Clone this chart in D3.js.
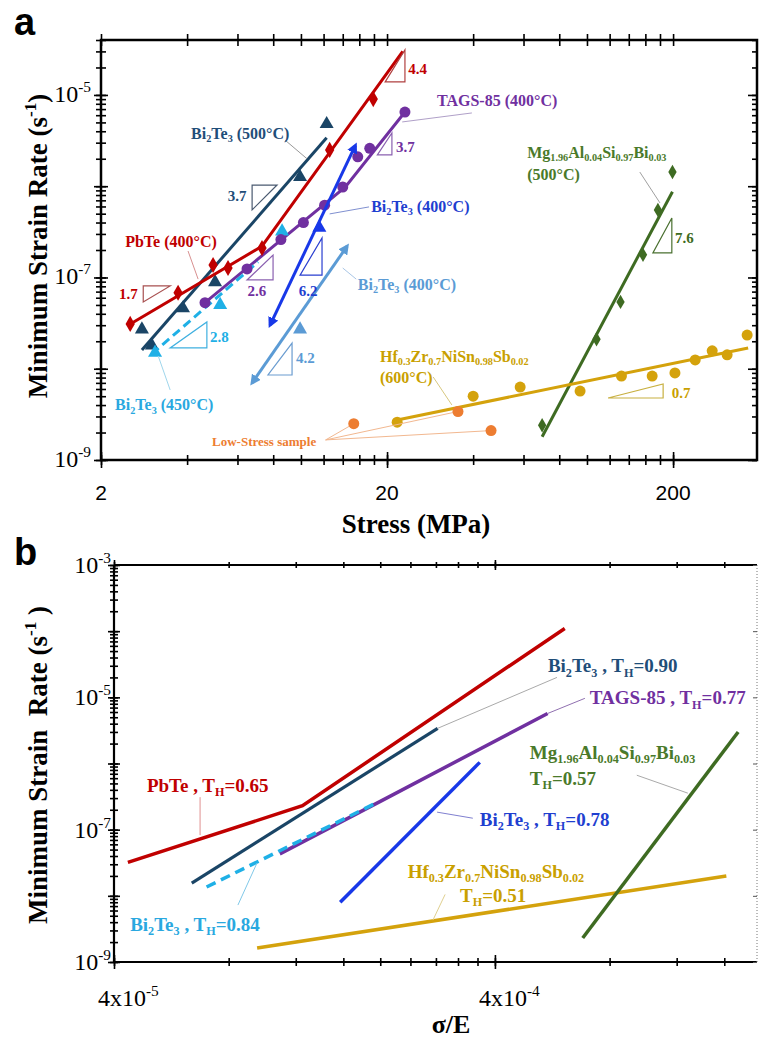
<!DOCTYPE html>
<html>
<head>
<meta charset="utf-8">
<script src="https://cdn.jsdelivr.net/npm/d3@7"></script>
<style>
  body { margin: 0; background: #fff; }
</style>
</head>
<body>
<svg id="fig" width="760" height="1041"></svg>
<script>
// ---------- panel a : stress (MPa) vs minimum strain rate (1/s) ----------
const pbteStress = [2.53, 3.72, 4.93, 5.56, 7.31, 12.6, 17.9];
const pbteRate = [3.1e-8, 6.8e-8, 1.37e-7, 1.27e-7, 2.1e-7, 2.5e-6, 9.0e-6];
const pbteFitStress = [2.49, 7.31, 22.7];
const pbteFitRate = [3.0e-8, 2.2e-7, 3.0e-5];

const bt500Stress = [2.78, 3.01, 3.87, 5.01, 9.93, 12.3];
const bt500Rate = [2.7e-8, 1.8e-8, 4.6e-8, 8.9e-8, 1.26e-6, 4.8e-6];
const bt500FitStress = [2.78, 12.3];
const bt500FitRate = [1.6e-8, 3.4e-6];

const bt450Stress = [3.09, 5.22, 8.59];
const bt450Rate = [1.5e-8, 5.0e-8, 3.2e-7];
const bt450FitStress = [3.01, 7.08];
const bt450FitRate = [1.45e-8, 1.48e-7];

const tagsStress = [4.62, 6.48, 8.51, 10.2, 12.1, 14.0, 15.8, 17.4, 23.1];
const tagsRate = [5.3e-8, 1.24e-7, 2.6e-7, 4.0e-7, 6.2e-7, 9.8e-7, 2.1e-6, 2.6e-6, 6.5e-6];
const tagsFitStress = [4.62, 14.3, 23.1];
const tagsFitRate = [5.3e-8, 9.8e-7, 6.5e-6];

const bt400Stress = [7.8, 11.6, 15.5];
const bt400Rate = [3.0e-8, 3.5e-7, 2.8e-6];

const bt400bStress = [6.75, 9.93, 14.5];
const bt400bRate = [7.0e-9, 2.7e-8, 2.2e-7];

const mgStress = [69.7, 108, 131, 157, 177, 199];
const mgRate = [2.4e-9, 2.1e-8, 5.4e-8, 1.77e-7, 5.5e-7, 1.43e-6];
const mgFitStress = [69.7, 199];
const mgFitRate = [1.8e-9, 8.7e-7];

const hfStress = [21.7, 40.0, 58.4, 94.6, 132, 169, 203, 239, 274, 309, 363];
const hfRate = [2.6e-9, 5.0e-9, 6.3e-9, 5.7e-9, 8.3e-9, 8.3e-9, 9.0e-9, 1.25e-8, 1.57e-8, 1.42e-8, 2.34e-8];
const hfFitStress = [21.7, 366];
const hfFitRate = [2.74e-9, 1.69e-8];

const lowStress = [15.3, 35.4, 46.2];
const lowRate = [2.5e-9, 3.4e-9, 2.1e-9];

// ---------- panel b : normalised stress (sigma/E) ----------
const bPbteE = [4.35e-5, 1.25e-4, 6.1e-4];
const bPbteRate = [3.2e-8, 2.3e-7, 1.1e-4];
const bBt90E = [6.4e-5, 2.83e-4];
const bBt90Rate = [1.56e-8, 3.4e-6];
const bTagsE = [1.09e-4, 2.03e-4, 5.5e-4];
const bTagsRate = [4.3e-8, 2.8e-7, 5.7e-6];
const bBt84E = [7.0e-5, 1.97e-4];
const bBt84Rate = [1.36e-8, 2.6e-7];
const bBt78E = [1.57e-4, 3.65e-4];
const bBt78Rate = [8.0e-9, 1.04e-6];
const bHfE = [9.5e-5, 1.62e-3];
const bHfRate = [1.63e-9, 2.0e-8];
const bMgE = [6.8e-4, 1.74e-3];
const bMgRate = [2.3e-9, 3.0e-6];

// tick labels
const aXLabelTicks = [2, 20, 200];
const aYLabelExps = [-9, -7, -5];
const bXLabelTicks = [4e-5, 4e-4];
const bYLabelExps = [-9, -7, -5, -3];

const C = {
  red: '#c00000', navy: '#1a4566', cyan: '#1fb0e6', purple: '#7030a0',
  blue: '#1838e8', lblue: '#5b9bd5', green: '#3e6b22', gold: '#d4a20c', orange: '#ed7d31'
};
const SERIF = '"Liberation Serif","Times New Roman",serif';
const SANS = '"Liberation Sans",Arial,sans-serif';

const svg = d3.select('#fig');

const xA = d3.scaleLog().domain([2, 393]).range([101, 757]);
const yA = d3.scaleLog().domain([1e-9, 4e-5]).range([460, 40]);
const xB = d3.scaleLog().domain([4e-5, 1.95e-3]).range([114, 757]);
const yB = d3.scaleLog().domain([1e-9, 1e-3]).range([962, 565]);

// text with _{sub} and ^{sup}
function rich(sel, str, fs) {
  const parts = str.split(/([_^]\{[^}]*\})/).filter(s => s.length);
  let cur = 0;
  parts.forEach(p => {
    const m = p.match(/^([_^])\{(.*)\}$/);
    if (m) {
      const off = m[1] === '_' ? fs * 0.22 : -fs * 0.42;
      sel.append('tspan').attr('dy', off - cur).attr('font-size', fs * 0.64).text(m[2]);
      cur = off;
    } else {
      sel.append('tspan').attr('dy', -cur).attr('font-size', fs).text(p);
      cur = 0;
    }
  });
  return sel;
}

function spread(bases, dom) {
  const out = [];
  bases.forEach(b => {
    for (let k = 1; k <= 9; k++) {
      const v = b * k;
      if (v >= dom[0] * 0.999 && v <= dom[1] * 1.001) out.push(v);
    }
  });
  return out;
}

function ticks(g, scale, vals, orient, pos, lenA, lenB) {
  const fns = orient === 'x' ? [d3.axisBottom, d3.axisTop] : [d3.axisLeft, d3.axisRight];
  const tr = orient === 'x' ? `translate(0,${pos})` : `translate(${pos},0)`;
  [[fns[0], lenA], [fns[1], lenB]].forEach(([fn, len]) => {
    if (!len) return;
    const a = g.append('g').attr('transform', tr)
      .call(fn(scale).tickValues(vals).tickSize(len).tickSizeOuter(0).tickFormat(''));
    a.select('.domain').remove();
    a.selectAll('line').attr('stroke', '#000').attr('stroke-width', 1.6);
  });
}

function drawLine(g, xs, ys, xv, yv, color, w, dash) {
  g.append('path')
    .datum(xv.map((v, i) => [v, yv[i]]))
    .attr('d', d3.line().x(d => xs(d[0])).y(d => ys(d[1])))
    .attr('fill', 'none').attr('stroke', color).attr('stroke-width', w)
    .attr('stroke-dasharray', dash || null);
}

function drawPoints(g, xs, ys, xv, yv, color, type, size) {
  const pts = xv.map((v, i) => [v, yv[i]]);
  if (type === 'circle') {
    g.selectAll(null).data(pts).enter().append('circle')
      .attr('cx', d => xs(d[0])).attr('cy', d => ys(d[1])).attr('r', size).attr('fill', color);
  } else {
    const sym = d3.symbol().type(type).size(size);
    g.selectAll(null).data(pts).enter().append('path')
      .attr('d', sym).attr('transform', d => `translate(${xs(d[0])},${ys(d[1])})`).attr('fill', color);
  }
}

function drawLabel(g, xs, ys, d, fs) {
  if (d.lead) {
    d.lead.forEach(seg => {
      g.append('line')
        .attr('x1', xs(seg[0][0])).attr('y1', ys(seg[0][1]))
        .attr('x2', xs(seg[1][0])).attr('y2', ys(seg[1][1]))
        .attr('stroke', d.lc).attr('stroke-width', 1);
    });
  }
  const t = g.append('text')
    .attr('x', xs(d.x)).attr('y', ys(d.y))
    .attr('fill', d.c).attr('font-family', SERIF).attr('font-weight', 'bold')
    .attr('text-anchor', d.anchor || 'start');
  rich(t, d.t, d.fs || fs);
}

function slopeTri(g, xs, ys, d) {
  const x1 = xs(d.x1), x2 = xs(d.x2), yb = ys(d.yb), yt = ys(d.yt);
  const pts = d.type === 'ul' ? [[x1, yt], [x2, yt], [x1, yb]] : [[x1, yb], [x2, yb], [x2, yt]];
  g.append('path').attr('d', 'M' + pts.join('L') + 'Z')
    .attr('fill', 'none').attr('stroke', d.sc).attr('stroke-width', 1.2);
  g.append('text').attr('x', xs(d.tx)).attr('y', ys(d.ty))
    .attr('text-anchor', d.anchor).attr('fill', d.tc)
    .attr('font-family', SERIF).attr('font-weight', 'bold').attr('font-size', 15)
    .text(d.t);
}

// arrow heads for the Bi2Te3 (400 C) lines
const defs = svg.append('defs');
[['arrBlue', C.blue], ['arrLB', C.lblue]].forEach(([id, col]) => {
  defs.append('marker').attr('id', id).attr('viewBox', '0 0 10 10')
    .attr('refX', 7).attr('refY', 5).attr('markerWidth', 3.6).attr('markerHeight', 3.6)
    .attr('orient', 'auto-start-reverse')
    .append('path').attr('d', 'M0,0L10,5L0,10Z').attr('fill', col);
});

// ================= panel a =================
const ga = svg.append('g');

// axes
const aXt = spread(aXLabelTicks, xA.domain());
const aYdec = d3.range(-9, -4).map(e => Math.pow(10, e));
const aYt = spread(aYdec, yA.domain());
ticks(ga, xA, aXt, 'x', 460, 5, 5);
ticks(ga, xA, aXLabelTicks, 'x', 460, 8, 8);
ticks(ga, xA, aXt, 'x', 40, 6, 6);
ticks(ga, yA, aYt, 'y', 101, 5, 5);
ticks(ga, yA, aYdec, 'y', 101, 7, 7);
ticks(ga, yA, aYt, 'y', 757, 5, 0);
ticks(ga, yA, aYdec, 'y', 757, 9, 0);
ga.append('rect').attr('x', 101).attr('y', 40).attr('width', 656).attr('height', 420)
  .attr('fill', 'none').attr('stroke', '#000').attr('stroke-width', 2.5);

aXLabelTicks.forEach(v => {
  ga.append('text').attr('x', xA(v)).attr('y', 500).attr('text-anchor', 'middle')
    .attr('font-family', SANS).attr('font-size', 21).text(v);
});
aYLabelExps.forEach(e => {
  const t = ga.append('text').attr('x', 91).attr('y', yA(Math.pow(10, e)) + 7)
    .attr('text-anchor', 'end').attr('font-family', SERIF);
  rich(t, '10^{' + e + '}', 24);
});

// series
drawLine(ga, xA, yA, bt500FitStress, bt500FitRate, C.navy, 3);
drawPoints(ga, xA, yA, bt500Stress, bt500Rate, C.navy, d3.symbolTriangle, 85);
drawLine(ga, xA, yA, tagsFitStress, tagsFitRate, C.purple, 3);
drawLine(ga, xA, yA, bt450FitStress, bt450FitRate, C.cyan, 3, '9,5');
drawPoints(ga, xA, yA, bt450Stress, bt450Rate, C.cyan, d3.symbolTriangle, 85);
drawPoints(ga, xA, yA, tagsStress, tagsRate, C.purple, 'circle', 5.5);
drawLine(ga, xA, yA, pbteFitStress, pbteFitRate, C.red, 3);
drawPoints(ga, xA, yA, pbteStress, pbteRate, C.red, d3.symbolDiamond, 75);

ga.append('path')
  .datum([[bt400Stress[0], bt400Rate[0]], [bt400Stress[2], bt400Rate[2]]])
  .attr('d', d3.line().x(d => xA(d[0])).y(d => yA(d[1])))
  .attr('stroke', C.blue).attr('stroke-width', 3).attr('fill', 'none')
  .attr('marker-start', 'url(#arrBlue)').attr('marker-end', 'url(#arrBlue)');
drawPoints(ga, xA, yA, bt400Stress.slice(1, 2), bt400Rate.slice(1, 2), C.blue, d3.symbolTriangle, 85);

ga.append('path')
  .datum([[bt400bStress[0], bt400bRate[0]], [bt400bStress[2], bt400bRate[2]]])
  .attr('d', d3.line().x(d => xA(d[0])).y(d => yA(d[1])))
  .attr('stroke', C.lblue).attr('stroke-width', 3).attr('fill', 'none')
  .attr('marker-start', 'url(#arrLB)').attr('marker-end', 'url(#arrLB)');
drawPoints(ga, xA, yA, bt400bStress.slice(1, 2), bt400bRate.slice(1, 2), C.lblue, d3.symbolTriangle, 85);

drawLine(ga, xA, yA, mgFitStress, mgFitRate, C.green, 3);
drawPoints(ga, xA, yA, mgStress, mgRate, C.green, d3.symbolDiamond, 60);
drawLine(ga, xA, yA, hfFitStress, hfFitRate, C.gold, 3);
drawPoints(ga, xA, yA, hfStress, hfRate, C.gold, 'circle', 5.5);

// low-stress leader lines + points
lowStress.forEach((s, i) => {
  ga.append('line').attr('x1', xA(12.2)).attr('y1', yA(1.66e-9))
    .attr('x2', xA(s)).attr('y2', yA(lowRate[i]))
    .attr('stroke', '#f2b890').attr('stroke-width', 1);
});
drawPoints(ga, xA, yA, lowStress, lowRate, C.orange, 'circle', 5.5);

// slope triangles
[
  { type: 'ul', x1: 6.75, x2: 8.25, yb: 5.5e-7, yt: 1.03e-6, sc: '#4a5a70', t: '3.7', tx: 6.45, ty: 6.9e-7, anchor: 'end', tc: '#1f4e79' },
  { type: 'ul', x1: 2.81, x2: 3.49, yb: 5.39e-8, yt: 8.07e-8, sc: '#a85050', t: '1.7', tx: 2.69, ty: 5.8e-8, anchor: 'end', tc: C.red },
  { type: 'lr', x1: 3.49, x2: 4.69, yb: 1.69e-8, yt: 3.25e-8, sc: '#3fb0e0', t: '2.8', tx: 4.81, ty: 1.96e-8, anchor: 'start', tc: C.cyan },
  { type: 'lr', x1: 6.48, x2: 7.99, yb: 9.39e-8, yt: 1.76e-7, sc: '#8a60b0', t: '2.6', tx: 7.02, ty: 6.27e-8, anchor: 'middle', tc: C.purple },
  { type: 'lr', x1: 9.93, x2: 11.85, yb: 1.06e-7, yt: 2.71e-7, sc: '#2a3fd0', t: '6.2', tx: 10.6, ty: 6.27e-8, anchor: 'middle', tc: '#1f3fd0' },
  { type: 'lr', x1: 7.67, x2: 9.31, yb: 8.54e-9, yt: 1.91e-8, sc: '#6a9cd0', t: '4.2', tx: 9.61, ty: 1.16e-8, anchor: 'start', tc: C.lblue },
  { type: 'lr', x1: 19.7, x2: 23.1, yb: 1.39e-5, yt: 3.11e-5, sc: '#b04040', t: '4.4', tx: 23.7, ty: 1.7e-5, anchor: 'start', tc: C.red },
  { type: 'lr', x1: 18.5, x2: 20.8, yb: 2.2e-6, yt: 3.83e-6, sc: '#8a60b0', t: '3.7', tx: 21.5, ty: 2.37e-6, anchor: 'start', tc: C.purple },
  { type: 'lr', x1: 170, x2: 198, yb: 1.86e-7, yt: 4.49e-7, sc: '#4a7030', t: '7.6', tx: 203, ty: 2.39e-7, anchor: 'start', tc: C.green },
  { type: 'lr', x1: 118.5, x2: 184.6, yb: 4.78e-9, yt: 6.81e-9, sc: '#c8b040', t: '0.7', tx: 198, ty: 4.78e-9, anchor: 'start', tc: '#c9a000' }
].forEach(d => slopeTri(ga, xA, yA, d));

// series labels
[
  { t: 'Bi_{2}Te_{3} (500°C)', x: 4.13, y: 3.3e-6, c: '#1f4e79', lc: '#999', lead: [[[8.8, 3.2e-6], [10.5, 2.0e-6]]] },
  { t: 'PbTe (400°C)', x: 2.43, y: 2.16e-7, c: C.red, lc: '#d89090', lead: [[[4.03, 1.95e-7], [4.37, 9.6e-8]]] },
  { t: 'Bi_{2}Te_{3} (450°C)', x: 2.24, y: 3.53e-9, c: '#29a8e0', lc: '#9fd6ec', lead: [[[3.49, 5.85e-9], [3.17, 1.38e-8]]] },
  { t: 'Bi_{2}Te_{3} (400°C)', x: 17.6, y: 5.22e-7, c: '#1f3fd0', lc: '#8090d0', lead: [[[12.6, 4.97e-7], [17.3, 5.93e-7]]] },
  { t: 'Bi_{2}Te_{3} (400°C)', x: 15.8, y: 7.3e-8, c: C.lblue, lc: '#a9c6e6', lead: [[[14.0, 1.27e-7], [15.6, 9.6e-8]]] },
  { t: 'TAGS-85 (400°C)', x: 29.9, y: 7.57e-6, c: C.purple, lc: '#b0a0c8', lead: [[[22.6, 5.06e-6], [39.6, 6.35e-6]]] },
  { t: 'Mg_{1.96}Al_{0.04}Si_{0.97}Bi_{0.03}', x: 61.8, y: 2.04e-6, c: '#4a7a2a' },
  { t: '(500°C)', x: 61.8, y: 1.18e-6, c: '#4a7a2a', lc: '#a0a0a0', lead: [[[153, 1.43e-6], [180, 6.55e-7]]] },
  { t: 'Hf_{0.3}Zr_{0.7}NiSn_{0.98}Sb_{0.02}', x: 18.9, y: 1.19e-8, c: '#c9a000' },
  { t: '(600°C)', x: 18.9, y: 6.98e-9, c: '#c9a000', lc: '#d8c880', lead: [[[29.0, 8.12e-9], [33.7, 4.01e-9]]] },
  { t: 'Low-Stress sample', x: 4.89, y: 1.42e-9, c: C.orange, fs: 13 }
].forEach(d => drawLabel(ga, xA, yA, d, 16));

// titles
ga.append('text').attr('x', 416).attr('y', 533).attr('text-anchor', 'middle')
  .attr('font-family', SERIF).attr('font-weight', 'bold').attr('font-size', 27).text('Stress (MPa)');
rich(ga.append('text').attr('transform', 'translate(47,246) rotate(-90)')
  .attr('text-anchor', 'middle').attr('font-family', SERIF).attr('font-weight', 'bold'),
  'Minimum Strain Rate (s^{-1})', 27);
ga.append('text').attr('x', 14).attr('y', 35).attr('font-family', SANS)
  .attr('font-weight', 'bold').attr('font-size', 38).text('a');

// ================= panel b =================
const gb = svg.append('g');

const bXt = spread(bXLabelTicks, xB.domain());
const bYdec = d3.range(-9, -2).map(e => Math.pow(10, e));
const bYt = spread(bYdec, yB.domain());
ticks(gb, xB, bXt, 'x', 962, 4, 4);
ticks(gb, xB, bXLabelTicks, 'x', 962, 7, 7);
ticks(gb, xB, bXt, 'x', 565, 3, 3);
ticks(gb, xB, bXLabelTicks, 'x', 565, 5, 5);
ticks(gb, yB, bYt, 'y', 114, 4, 4);
ticks(gb, yB, bYdec, 'y', 114, 6, 6);
gb.append('line').attr('x1', 114).attr('y1', 565).attr('x2', 757).attr('y2', 565)
  .attr('stroke', '#000').attr('stroke-width', 2);
gb.append('line').attr('x1', 114).attr('y1', 962).attr('x2', 757).attr('y2', 962)
  .attr('stroke', '#000').attr('stroke-width', 2.2);
gb.append('line').attr('x1', 114).attr('y1', 565).attr('x2', 114).attr('y2', 962)
  .attr('stroke', '#000').attr('stroke-width', 2.2);
gb.append('line').attr('x1', 757).attr('y1', 565).attr('x2', 757).attr('y2', 962)
  .attr('stroke', '#777').attr('stroke-width', 1).attr('stroke-dasharray', '1,2');
const rb = gb.append('g').attr('transform', 'translate(757,0)')
  .call(d3.axisLeft(yB).tickValues(bYdec).tickSize(4).tickSizeOuter(0).tickFormat(''));
rb.select('.domain').remove();
rb.selectAll('line').attr('stroke', '#555').attr('stroke-width', 1);

bXLabelTicks.forEach(v => {
  const e = Math.round(Math.log10(v / 4));
  const t = gb.append('text').attr('x', xB(v) - 16).attr('y', 1006).attr('font-family', SERIF);
  rich(t, '4x10^{' + e + '}', 24);
});
bYLabelExps.forEach(e => {
  const t = gb.append('text').attr('x', 111).attr('y', yB(Math.pow(10, e)) + 8)
    .attr('text-anchor', 'end').attr('font-family', SERIF);
  rich(t, '10^{' + e + '}', 24);
});

drawLine(gb, xB, yB, bPbteE, bPbteRate, C.red, 3.5);
drawLine(gb, xB, yB, bBt90E, bBt90Rate, C.navy, 3.2);
drawLine(gb, xB, yB, bTagsE, bTagsRate, C.purple, 3.5);
drawLine(gb, xB, yB, bBt84E, bBt84Rate, C.cyan, 3.5, '10,6');
drawLine(gb, xB, yB, bBt78E, bBt78Rate, C.blue, 3.5);
drawLine(gb, xB, yB, bHfE, bHfRate, C.gold, 3.5);
drawLine(gb, xB, yB, bMgE, bMgRate, C.green, 3.5);

[
  { t: 'PbTe , T_{H}=0.65', x: 4.88e-5, y: 3.68e-7, c: C.red, lc: '#e09090', lead: [[[6.73e-5, 3.1e-7], [6.73e-5, 8.26e-8]]] },
  { t: 'Bi_{2}Te_{3} , T_{H}=0.90', x: 5.51e-4, y: 2.38e-5, c: '#1f4e79', lc: '#aaa', lead: [[[2.83e-4, 3.4e-6], [5.82e-4, 2.0e-5]]] },
  { t: 'TAGS-85 , T_{H}=0.77', x: 7.1e-4, y: 7.84e-6, c: C.purple, lc: '#9070b0', lead: [[[5.5e-4, 5.7e-6], [6.89e-4, 9.66e-6]]] },
  { t: 'Mg_{1.96}Al_{0.04}Si_{0.97}Bi_{0.03}', x: 4.94e-4, y: 1.16e-6, c: '#4a7a2a' },
  { t: 'T_{H}=0.57', x: 4.94e-4, y: 4.8e-7, c: '#4a7a2a', lc: '#aaa', lead: [[[9.43e-4, 6.65e-7], [1.284e-3, 3.56e-7]]] },
  { t: 'Bi_{2}Te_{3} , T_{H}=0.78', x: 3.65e-4, y: 1.13e-7, c: '#1f3fd0', lc: '#8080d0', lead: [[[2.82e-4, 1.84e-7], [3.5e-4, 1.49e-7]]] },
  { t: 'Hf_{0.3}Zr_{0.7}NiSn_{0.98}Sb_{0.02}', x: 2.36e-4, y: 1.85e-8, c: '#c9a000' },
  { t: 'T_{H}=0.51', x: 3.24e-4, y: 8.2e-9, c: '#c9a000', lc: '#e0d090', lead: [[[2.96e-4, 1.05e-8], [2.75e-4, 4.3e-9]]] },
  { t: 'Bi_{2}Te_{3} , T_{H}=0.84', x: 4.41e-5, y: 2.94e-9, c: '#29a8e0', lc: '#80c8e8', lead: [[[8.46e-5, 7.25e-9], [9.49e-5, 3.12e-8]]] }
].forEach(d => drawLabel(gb, xB, yB, d, 19));

gb.append('text').attr('x', 451).attr('y', 1033).attr('text-anchor', 'middle')
  .attr('font-family', SERIF).attr('font-weight', 'bold').attr('font-size', 26).text('σ/E');
rich(gb.append('text').attr('transform', 'translate(47,765) rotate(-90)')
  .attr('text-anchor', 'middle').attr('font-family', SERIF).attr('font-weight', 'bold')
  .style('white-space', 'pre'),
  'Minimum Strain  Rate (s^{-1} )', 27);
gb.append('text').attr('x', 14).attr('y', 565).attr('font-family', SANS)
  .attr('font-weight', 'bold').attr('font-size', 38).text('b');
</script>
</body>
</html>
